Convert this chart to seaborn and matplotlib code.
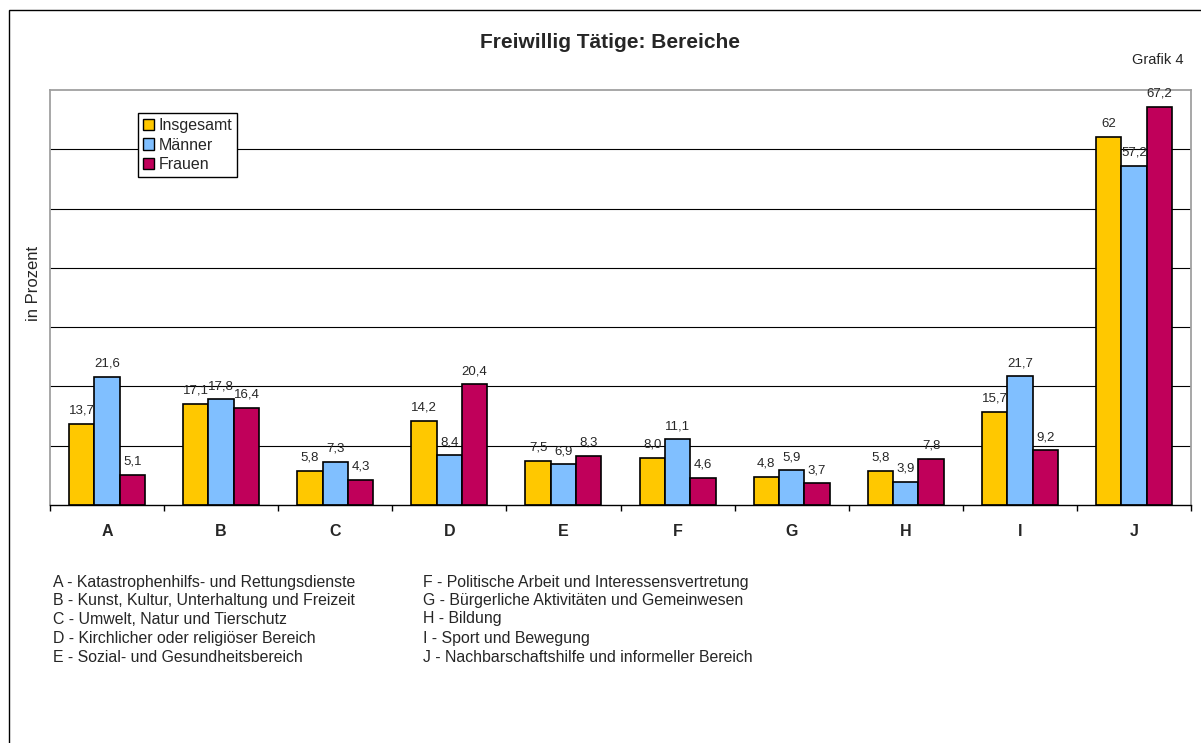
import pandas as pd
import matplotlib.pyplot as plt
import seaborn as sns
from matplotlib.patches import Rectangle

# Data
bereiche = ["A", "B", "C", "D", "E", "F", "G", "H", "I", "J"]
gruppen = ["Insgesamt", "Männer", "Frauen"]
insgesamt = [13.7, 17.1, 5.8, 14.2, 7.5, 8.0, 4.8, 5.8, 15.7, 62.0]
maenner = [21.6, 17.8, 7.3, 8.4, 6.9, 11.1, 5.9, 3.9, 21.7, 57.2]
frauen = [5.1, 16.4, 4.3, 20.4, 8.3, 4.6, 3.7, 7.8, 9.2, 67.2]
label_insgesamt = ["13,7", "17,1", "5,8", "14,2", "7,5", "8,0", "4,8", "5,8", "15,7", "62"]
label_maenner = ["21,6", "17,8", "7,3", "8,4", "6,9", "11,1", "5,9", "3,9", "21,7", "57,2"]
label_frauen = ["5,1", "16,4", "4,3", "20,4", "8,3", "4,6", "3,7", "7,8", "9,2", "67,2"]
farben = ["#FFC800", "#80BFFF", "#C0005A"]

legende_links = [
    "A - Katastrophenhilfs- und Rettungsdienste",
    "B - Kunst, Kultur, Unterhaltung und Freizeit",
    "C - Umwelt, Natur und Tierschutz",
    "D - Kirchlicher oder religiöser Bereich",
    "E - Sozial- und Gesundheitsbereich",
]
legende_rechts = [
    "F - Politische Arbeit und Interessensvertretung",
    "G - Bürgerliche Aktivitäten und Gemeinwesen",
    "H - Bildung",
    "I - Sport und Bewegung",
    "J - Nachbarschaftshilfe und informeller Bereich",
]

df = pd.DataFrame({
    "Bereich": bereiche * 3,
    "Gruppe": [g for g in gruppen for _ in bereiche],
    "Wert": insgesamt + maenner + frauen,
})

sns.set_style("white")
plt.rcParams["font.family"] = ["Liberation Sans", "DejaVu Sans"]

W, H = 1201, 743
fig = plt.figure(figsize=(W / 100, H / 100), dpi=100)
ax = fig.add_axes([50 / W, 1 - 505 / H, (1191 - 50) / W, (505 - 90) / H])

sns.barplot(data=df, x="Bereich", y="Wert", hue="Gruppe", palette=farben,
            saturation=1, width=0.666, gap=0, edgecolor="black", linewidth=1.2,
            errorbar=None, ax=ax, zorder=3)

for cont, labs in zip(ax.containers, [label_insgesamt, label_maenner, label_frauen]):
    ax.bar_label(cont, labels=labs, padding=5, fontsize=9.5, zorder=5)

ax.set_ylim(0, 70)
ax.set_xlim(-0.5, 9.5)
ax.set_yticks(range(10, 70, 10))
ax.yaxis.grid(True, color="black", linewidth=0.8, zorder=0)
ax.tick_params(axis="y", left=False, labelleft=False)
ax.set_xticks(range(len(bereiche)))
ax.set_xticklabels(bereiche, fontweight="bold", fontsize=11.5)
ax.set_xticks([i - 0.5 for i in range(len(bereiche) + 1)], minor=True)
ax.tick_params(axis="x", which="major", length=0, pad=14)
ax.tick_params(axis="x", which="minor", length=4, width=1, color="black", direction="out", bottom=True)
ax.set_xlabel("")
ax.set_ylabel("")

for s in ["left", "top", "right"]:
    ax.spines[s].set_color("#A0A0A0")
    ax.spines[s].set_linewidth(1.3)
ax.spines["bottom"].set_color("black")
ax.spines["bottom"].set_linewidth(1)
ax.spines["bottom"].set_zorder(4)

leg = ax.legend(loc="upper left", bbox_to_anchor=(138 / W, 1 - 113 / H),
                bbox_transform=fig.transFigure, fontsize=11.5, frameon=True,
                fancybox=False, shadow=False, framealpha=1, edgecolor="black",
                handlelength=0.7, handleheight=0.7, handletextpad=0.3,
                borderpad=0.3, labelspacing=0.3, borderaxespad=0)
leg.get_frame().set_linewidth(1)
for h in leg.legend_handles:
    h.set_edgecolor("black")
    h.set_linewidth(1)

# Titel und Beschriftungen
fig.text(610 / W, 1 - 42 / H, "Freiwillig Tätige: Bereiche", ha="center", va="center",
         fontsize=15, fontweight="bold")
fig.text(1184 / W, 1 - 60 / H, "Grafik 4", ha="right", va="center", fontsize=10.5)
fig.text(33 / W, 1 - 283 / H, "in Prozent", ha="center", va="center", rotation=90, fontsize=12)

# Erklärung der Buchstaben
zeilen_y = [582, 600, 619, 638, 657]
for txt, y in zip(legende_links, zeilen_y):
    fig.text(53 / W, 1 - y / H, txt, ha="left", va="center", fontsize=11.4)
for txt, y in zip(legende_rechts, zeilen_y):
    fig.text(423 / W, 1 - y / H, txt, ha="left", va="center", fontsize=11.4)

# äußerer Rahmen
fig.patches.append(Rectangle((8.5 / W, -0.05), 1.1, 1 - 10.5 / H + 0.05, transform=fig.transFigure,
                             fill=False, edgecolor="black", linewidth=1))

fig.savefig("out.png", dpi=100)
